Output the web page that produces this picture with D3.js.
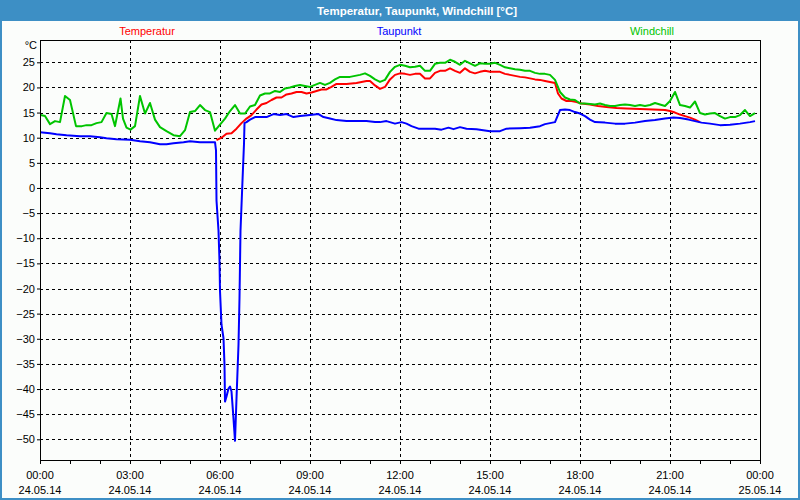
<!DOCTYPE html>
<html>
<head>
<meta charset="utf-8">
<script src="https://cdn.jsdelivr.net/npm/d3@7"></script>
<style>
  html, body { margin: 0; padding: 0; background: #3d8fc5; }
  svg { display: block; }
  text { font-family: "Liberation Sans", Arial, sans-serif; }
</style>
</head>
<body>
<svg id="chart" width="800" height="500"></svg>
<script>
// ---------- DATA (minutes after 00:00 on 24.05.14, value in °C) ----------
const chartTitle = "Temperatur, Taupunkt, Windchill [°C]";
const seriesNames = ["Temperatur", "Taupunkt", "Windchill"];
const seriesColors = ["#ff0000", "#0000ff", "#00c400"];
const yTicks = [25, 20, 15, 10, 5, 0, -5, -10, -15, -20, -25, -30, -35, -40, -45, -50];
const xTickTimes = ["00:00", "03:00", "06:00", "09:00", "12:00", "15:00", "18:00", "21:00", "00:00"];
const xTickDates = ["24.05.14", "24.05.14", "24.05.14", "24.05.14", "24.05.14", "24.05.14", "24.05.14", "24.05.14", "25.05.14"];

const tempMinutes = [353, 363, 373, 383, 393, 403, 413, 423, 433, 443, 453, 463, 473, 483, 493, 503, 513, 523, 533, 543, 553, 563, 573, 583, 593, 603, 613, 623, 633, 643, 653, 660, 670, 680, 690, 700, 710, 720, 730, 740, 750, 760, 770, 780, 790, 800, 810, 820, 830, 840, 850, 860, 870, 880, 890, 900, 910, 920, 930, 940, 950, 960, 970, 980, 990, 1000, 1010, 1020, 1030, 1036, 1043, 1053, 1063, 1073, 1083, 1100, 1116, 1133, 1153, 1173, 1200, 1226, 1250, 1260, 1270, 1280, 1290, 1300, 1310, 1320];
const tempValues = [9.5, 10, 10.8, 10.9, 11.8, 12.9, 13.8, 14.5, 15.6, 16.6, 16.9, 17.5, 18, 18, 18.6, 18.8, 19.1, 19.1, 18.8, 19, 19.3, 19.6, 19.6, 20.1, 20.7, 20.7, 20.7, 20.8, 20.9, 21.1, 21.3, 21.3, 20.4, 19.7, 20.1, 21.6, 22.5, 22.8, 22.7, 22.5, 22.7, 22.7, 21.8, 21.8, 22.9, 23.3, 23.3, 23.8, 23.3, 22.9, 23.8, 23.1, 22.8, 23.1, 23.3, 23.1, 23.1, 23.1, 22.7, 22.5, 22.3, 22.1, 22, 21.8, 21.6, 21.5, 21.3, 21.1, 20.9, 18.8, 17.8, 17.3, 17.3, 17.1, 16.8, 16.6, 16.3, 16.1, 15.9, 15.8, 15.7, 15.6, 15.5, 15.3, 15, 14.6, 14.3, 14, 13.6, 13.1];

const dewMinutes = [0, 20, 33, 53, 80, 100, 120, 133, 153, 180, 200, 220, 240, 253, 267, 287, 300, 320, 350, 352, 353, 357, 359, 360, 363, 367, 369, 370, 373, 377, 380, 383, 387, 390, 393, 397, 399, 401, 405, 408, 409, 413, 420, 430, 440, 453, 467, 480, 493, 507, 520, 540, 557, 567, 580, 593, 613, 633, 653, 670, 680, 693, 710, 723, 733, 743, 757, 773, 790, 803, 817, 827, 840, 853, 873, 900, 920, 933, 960, 980, 1000, 1010, 1020, 1030, 1040, 1050, 1060, 1070, 1080, 1090, 1100, 1110, 1130, 1150, 1170, 1190, 1210, 1230, 1250, 1267, 1280, 1297, 1310, 1323, 1340, 1360, 1380, 1400, 1420, 1430];
const dewValues = [11.1, 10.9, 10.7, 10.5, 10.3, 10.3, 10.1, 9.9, 9.7, 9.6, 9.3, 9.1, 8.7, 8.7, 8.9, 9.1, 9.3, 9.1, 9.1, 7.5, -2.5, -8.5, -14.5, -20.5, -27.2, -29.9, -35.2, -42.5, -41.5, -39.9, -39.5, -40.5, -45.9, -50.3, -41.9, -31.2, -21.9, -8.5, 1.5, 8.8, 12.9, 13.1, 13.6, 14.1, 14.1, 14.1, 14.7, 14.5, 14.7, 14.1, 14.3, 14.5, 14.7, 14.1, 13.8, 13.5, 13.3, 13.3, 13.3, 13.1, 13.1, 13.3, 12.8, 13.1, 12.8, 12.3, 11.8, 11.8, 11.8, 11.6, 12, 11.7, 12.1, 11.8, 11.7, 11.3, 11.3, 11.8, 11.9, 12, 12.3, 12.7, 12.9, 13.1, 15.5, 15.6, 15.5, 15.1, 14.8, 14.3, 13.6, 13.1, 13, 12.8, 12.8, 13, 13.3, 13.5, 13.8, 14, 13.9, 13.6, 13.3, 13, 12.8, 12.5, 12.6, 12.8, 13.1, 13.3];

const windMinutes = [1, 10, 20, 30, 40, 50, 60, 72, 84, 93, 103, 113, 123, 133, 143, 150, 161, 166, 173, 181, 190, 200, 210, 220, 230, 240, 253, 267, 280, 290, 300, 310, 320, 330, 340, 350, 360, 370, 380, 390, 400, 410, 420, 430, 440, 450, 460, 470, 480, 490, 500, 510, 520, 530, 540, 550, 560, 570, 580, 590, 600, 610, 620, 630, 640, 650, 660, 670, 680, 690, 700, 710, 720, 730, 740, 750, 760, 770, 780, 790, 800, 810, 820, 830, 840, 850, 860, 870, 880, 890, 900, 910, 920, 930, 940, 950, 960, 970, 980, 990, 1000, 1010, 1020, 1030, 1040, 1050, 1060, 1070, 1080, 1090, 1100, 1110, 1120, 1130, 1140, 1150, 1160, 1170, 1180, 1190, 1200, 1210, 1220, 1230, 1240, 1250, 1260, 1270, 1280, 1290, 1300, 1310, 1320, 1330, 1340, 1350, 1360, 1370, 1380, 1390, 1400, 1410, 1420, 1430];
const windValues = [14.5, 14.3, 12.7, 13.3, 13.1, 18.3, 17.5, 12.3, 12.3, 12.5, 12.5, 12.9, 13.1, 14.9, 14.7, 12.3, 17.8, 13.8, 12, 11.6, 12.3, 18.3, 14.8, 16.9, 13.6, 12.1, 11.3, 10.5, 10.3, 11.5, 15.1, 15.3, 16.5, 15.5, 15.1, 11.4, 12.6, 13.8, 15.3, 16.5, 14.8, 14.8, 16.2, 16.5, 18.4, 18.8, 18.8, 19.3, 19.1, 19.8, 20, 20.3, 20.5, 20.3, 20.1, 20.5, 20.9, 20.5, 20.9, 21.6, 22.1, 22.1, 22.1, 22.3, 22.5, 22.8, 22.3, 21.6, 21.1, 21.5, 23.1, 24.1, 24.5, 24.3, 24, 24.1, 24.3, 23.3, 23.3, 24.7, 24.9, 24.9, 25.5, 25.1, 24.5, 25.3, 24.8, 24.3, 24.8, 24.7, 24.7, 24.9, 24.5, 24, 23.8, 23.6, 23.5, 23.3, 23.3, 22.9, 22.7, 22.7, 22.5, 21.5, 19.1, 18, 17.6, 17.5, 16.8, 16.8, 16.7, 16.6, 16.8, 16.5, 16.3, 16.3, 16.5, 16.6, 16.5, 16.3, 16.5, 16.3, 16.5, 16.9, 16.6, 16.3, 17.3, 19.1, 16.5, 16.3, 16, 17.2, 14.9, 14.6, 14.8, 14.9, 14.3, 13.8, 14.1, 14.1, 14.5, 15.5, 14.3, 14.9];

// ---------- LAYOUT ----------
const W = 800, H = 500;
const plot = { left: 40, right: 760, top: 40, bottom: 460 };
const start = new Date(2014, 4, 24, 0, 0);
const end = new Date(2014, 4, 25, 0, 0);
const toDate = m => new Date(start.getTime() + m * 60000);

const x = d3.scaleTime().domain([start, end]).range([plot.left, plot.right]);
const y = d3.scaleLinear().domain([-50, 25]).range([439.3, 62.3]);

const svg = d3.select("#chart");

// frame
svg.append("rect").attr("x", 0).attr("y", 0).attr("width", W).attr("height", H).attr("fill", "#3d8fc5");
svg.append("rect").attr("x", 2).attr("y", 21).attr("width", W - 4).attr("height", H - 23).attr("fill", "#fbfdfb");

svg.append("text").attr("x", 417).attr("y", 14.5).attr("text-anchor", "middle")
  .attr("fill", "#ffffff").attr("font-weight", "bold").attr("font-size", "11.5px").text(chartTitle);

// legend
const legendX = [147, 399, 652];
seriesNames.forEach((n, i) => {
  svg.append("text").attr("x", legendX[i]).attr("y", 35).attr("text-anchor", "middle")
    .attr("fill", seriesColors[i]).attr("font-size", "11px").text(n);
});

// grid
const grid = svg.append("g").attr("shape-rendering", "crispEdges");
grid.selectAll("line.h").data(yTicks).enter().append("line")
  .attr("x1", plot.left).attr("x2", plot.right)
  .attr("y1", d => Math.round(y(d)) + 0.5).attr("y2", d => Math.round(y(d)) + 0.5)
  .attr("stroke", "#000").attr("stroke-dasharray", "3,3");
const xGridDates = xTickTimes.map((t, i) => toDate(i * 180));
grid.selectAll("line.v").data(xGridDates.slice(1, -1)).enter().append("line")
  .attr("x1", d => Math.round(x(d)) + 0.5).attr("x2", d => Math.round(x(d)) + 0.5)
  .attr("y1", plot.top).attr("y2", plot.bottom)
  .attr("stroke", "#000").attr("stroke-dasharray", "3,3");

// axes
const yAxis = d3.axisLeft(y).tickValues(yTicks).tickSize(3).tickPadding(2).tickFormat(d3.format("d"));
const gy = svg.append("g").attr("transform", `translate(${plot.left},0)`).call(yAxis);
gy.select(".domain").remove();
gy.selectAll("text").attr("font-size", "11px").attr("font-family", "Liberation Sans, Arial, sans-serif").attr("fill", "#000");

const hourTicks = d3.range(0, 25).map(h => toDate(h * 60));
const xAxis = d3.axisBottom(x).tickValues(hourTicks).tickSize(4).tickFormat("");
const gx = svg.append("g").attr("transform", `translate(0,${plot.bottom})`).call(xAxis);
gx.select(".domain").remove();

const labels = svg.append("g");
xGridDates.forEach((d, i) => {
  labels.append("text").attr("x", x(d)).attr("y", 479).attr("text-anchor", "middle")
    .attr("font-size", "11px").attr("fill", "#000").text(xTickTimes[i]);
  labels.append("text").attr("x", x(d)).attr("y", 494).attr("text-anchor", "middle")
    .attr("font-size", "11px").attr("fill", "#000").text(xTickDates[i]);
});
svg.append("text").attr("x", 37).attr("y", 49).attr("text-anchor", "end")
  .attr("font-size", "11px").attr("fill", "#000").text("°C");

// series
const line = d3.line().x(d => x(toDate(d[0]))).y(d => y(d[1]));
const series = [
  d3.zip(tempMinutes, tempValues),
  d3.zip(dewMinutes, dewValues),
  d3.zip(windMinutes, windValues)
];
const clipId = "plotclip";
svg.append("clipPath").attr("id", clipId).append("rect")
  .attr("x", plot.left).attr("y", plot.top).attr("width", plot.right - plot.left).attr("height", plot.bottom - plot.top);
series.forEach((s, i) => {
  svg.append("path").datum(s).attr("d", line).attr("fill", "none")
    .attr("stroke", seriesColors[i]).attr("stroke-width", 2).attr("stroke-linejoin", "round")
    .attr("clip-path", `url(#${clipId})`);
});

// plot border
svg.append("rect").attr("x", plot.left + 0.5).attr("y", plot.top + 0.5)
  .attr("width", plot.right - plot.left).attr("height", plot.bottom - plot.top)
  .attr("fill", "none").attr("stroke", "#000").attr("shape-rendering", "crispEdges");
</script>
</body>
</html>
